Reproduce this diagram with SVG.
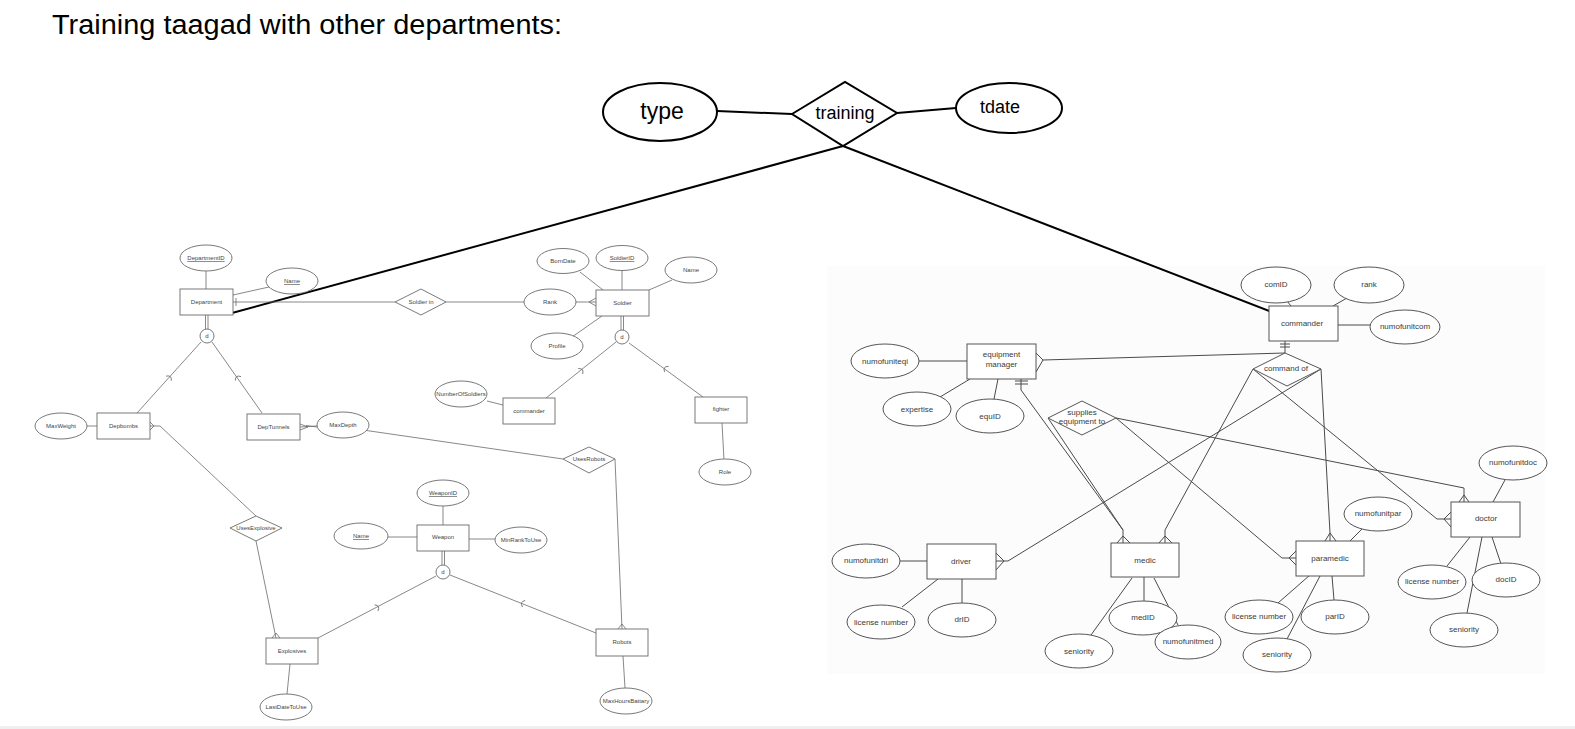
<svg xmlns="http://www.w3.org/2000/svg" width="1575" height="729" viewBox="0 0 1575 729">
<style>
.l1{stroke:#6a6a6a;stroke-width:0.8;fill:none}
.b1{fill:#fff;stroke:#6a6a6a;stroke-width:0.9}
.t1{font-family:"Liberation Sans",Arial,sans-serif;font-size:6px;fill:#444;text-anchor:middle}
.u{text-decoration:underline}
.l2{stroke:#4a4a4a;stroke-width:1;fill:none}
.b2{fill:#fff;stroke:#555;stroke-width:1}
.t2{font-family:"Liberation Sans",Arial,sans-serif;font-size:8px;fill:#3a3a3a;text-anchor:middle}
.l3{stroke:#000;stroke-width:2;fill:none}
.b3{fill:#fff;stroke:#000;stroke-width:2}
.t3{font-family:"Liberation Sans",Arial,sans-serif;fill:#000;text-anchor:middle}
</style>
<defs>
<path id="sub" d="M2,-3.5 Q-3,0 2,3.5" fill="none" stroke="#6a6a6a" stroke-width="0.8"/>
</defs>
<rect width="1575" height="729" fill="#fff"/>
<rect x="827" y="266" width="718" height="408" fill="#fcfcfc"/>
<rect x="0" y="726" width="1575" height="3" fill="#efefef"/>
<text x="52" y="34" font-family="Liberation Sans, Arial, sans-serif" font-size="27" fill="#000" textLength="510" lengthAdjust="spacingAndGlyphs">Training taagad with other departments:</text>

<g id="connectors">
<line class="l3" x1="717" y1="111" x2="792" y2="114"/>
<line class="l3" x1="897" y1="113" x2="956" y2="108"/>
<line class="l3" x1="843" y1="146" x2="232" y2="313"/>
<line class="l3" x1="843" y1="146" x2="1272" y2="312"/>
<line class="l1" x1="206" y1="271" x2="206" y2="289"/>
<line class="l1" x1="233" y1="295" x2="269" y2="287"/>
<line class="l1" x1="233" y1="302" x2="395" y2="302"/>
<line class="l1" x1="236" y1="298" x2="236" y2="306"/>
<line class="l1" x1="205.5" y1="315" x2="205.5" y2="329"/>
<line class="l1" x1="208" y1="315" x2="208" y2="329"/>
<line class="l1" x1="201" y1="342" x2="137" y2="413"/>
<line class="l1" x1="212" y1="342" x2="262" y2="413"/>
<use href="#sub" transform="translate(170,377) rotate(132)"/>
<use href="#sub" transform="translate(237,377) rotate(54.5)"/>
<line class="l1" x1="87" y1="426" x2="97" y2="426"/>
<path class="l1" d="M150,422 L154,426 L150,430 M150,426 L160,426 L256,516"/>
<path class="l1" d="M300,424 L308,427 L300,430 M300,427 L317,426 M306,425.5 L317,427"/>
<line class="l1" x1="363" y1="430" x2="563" y2="459"/>
<line class="l1" x1="446" y1="302" x2="524" y2="302"/>
<path class="l1" d="M576,302 L596,302 M596,298 L589,302 L596,306" stroke-width="1.1"/>
<line class="l1" x1="580" y1="272" x2="603" y2="290"/>
<line class="l1" x1="622" y1="271" x2="622" y2="290"/>
<line class="l1" x1="672" y1="280" x2="649" y2="290"/>
<line class="l1" x1="572" y1="337" x2="602" y2="316"/>
<line class="l1" x1="621" y1="316" x2="621" y2="330"/>
<line class="l1" x1="623.5" y1="316" x2="623.5" y2="330"/>
<line class="l1" x1="616" y1="342" x2="546" y2="398"/>
<line class="l1" x1="629" y1="343" x2="703" y2="397"/>
<use href="#sub" transform="translate(582,370) rotate(141)"/>
<use href="#sub" transform="translate(665,368) rotate(36)"/>
<line class="l1" x1="487" y1="401" x2="503" y2="405"/>
<line class="l1" x1="722" y1="423" x2="724" y2="460"/>
<line class="l1" x1="615" y1="459" x2="622" y2="629"/>
<path class="l1" d="M618,629 L622,624 L626,629"/>
<line class="l1" x1="443" y1="506" x2="443" y2="525"/>
<line class="l1" x1="388" y1="537" x2="417" y2="537"/>
<line class="l1" x1="469" y1="539" x2="495" y2="539"/>
<line class="l1" x1="442" y1="551" x2="442" y2="565"/>
<line class="l1" x1="444.5" y1="551" x2="444.5" y2="565"/>
<line class="l1" x1="436" y1="576" x2="318" y2="638"/>
<line class="l1" x1="450" y1="575" x2="596" y2="633"/>
<use href="#sub" transform="translate(378,607) rotate(152)"/>
<use href="#sub" transform="translate(522,603) rotate(22)"/>
<line class="l1" x1="256" y1="541" x2="276" y2="638"/>
<path class="l1" d="M272,638 L276,633 L280,638"/>
<line class="l1" x1="290" y1="664" x2="287" y2="694"/>
<line class="l1" x1="623" y1="656" x2="625" y2="688"/>
<line class="l2" x1="919" y1="361" x2="967" y2="361"/>
<line class="l2" x1="940" y1="397" x2="970" y2="379"/>
<line class="l2" x1="994" y1="399" x2="998" y2="379"/>
<path class="l2" d="M1036,353 L1043,360 L1036,372 M1043,360 L1285,353"/>
<path class="l2" d="M1285,341 L1285,353 M1280,344 L1290,344 M1280,347 L1290,347"/>
<line class="l2" x1="1287" y1="301" x2="1291" y2="306"/>
<line class="l2" x1="1347" y1="298" x2="1333" y2="306"/>
<line class="l2" x1="1338" y1="325" x2="1370" y2="325"/>
<path class="l2" d="M1021,379 L1021,390 L1123,530 L1123,543 M1015,381 L1028,381 M1015,384 L1028,384"/>
<line class="l2" x1="1048" y1="418" x2="1123" y2="530"/>
<path class="l2" d="M1117,543 L1123,536 L1130,543"/>
<path class="l2" d="M1253,369 L1165,530 L1165,543 M1159,543 L1165,536 L1172,543"/>
<path class="l2" d="M1253,369 L1437,519 L1451,519 M1451,512 L1444,519 L1451,527"/>
<path class="l2" d="M1321,369 L1008,561 L996,561 M996,553 L1004,561 L996,570"/>
<path class="l2" d="M1321,369 L1330,533 L1330,541 M1325,541 L1330,533 L1336,541"/>
<path class="l2" d="M1116,418 L1282,558 L1296,558 M1296,551 L1289,558 L1296,565"/>
<path class="l2" d="M1116,418 L1464,488 L1464,502 M1459,502 L1464,495 L1469,502"/>
<line class="l2" x1="900" y1="561" x2="927" y2="561"/>
<line class="l2" x1="902" y1="607" x2="938" y2="579"/>
<line class="l2" x1="962" y1="579" x2="962" y2="603"/>
<line class="l2" x1="1144" y1="577" x2="1144" y2="601"/>
<line class="l2" x1="1132" y1="578" x2="1091" y2="635"/>
<line class="l2" x1="1154" y1="578" x2="1178" y2="625"/>
<line class="l2" x1="1362" y1="529" x2="1350" y2="541"/>
<line class="l2" x1="1278" y1="603" x2="1310" y2="575"/>
<line class="l2" x1="1332" y1="576" x2="1334" y2="600"/>
<line class="l2" x1="1287" y1="639" x2="1320" y2="576"/>
<line class="l2" x1="1505" y1="480" x2="1493" y2="502"/>
<line class="l2" x1="1447" y1="566" x2="1470" y2="537"/>
<line class="l2" x1="1492" y1="537" x2="1501" y2="564"/>
<line class="l2" x1="1482" y1="537" x2="1467" y2="613"/>
</g>

<g id="n-type"><ellipse class="b3" cx="660" cy="112" rx="57" ry="29"/><text class="t3" x="662" y="119" font-size="23">type</text></g>
<g id="n-training"><polygon class="b3" points="792,114 845,82 897,113 843,146"/><text class="t3" x="845" y="119" font-size="18">training</text></g>
<g id="n-tdate"><ellipse class="b3" cx="1009" cy="108" rx="53" ry="25"/><text class="t3" x="1000" y="113" font-size="18">tdate</text></g>

<g id="n-department"><rect class="b1" x="180" y="289" width="53" height="26"/><text class="t1" x="206.5" y="304">Department</text></g>
<g id="n-departmentid"><ellipse class="b1" cx="206" cy="258" rx="26" ry="13"/><text class="t1 u" x="206" y="260">DepartmentID</text></g>
<g id="n-dept-name"><ellipse class="b1" cx="292" cy="281" rx="26" ry="13"/><text class="t1 u" x="292" y="283">Name</text></g>
<g id="n-dept-d"><circle class="b1" cx="207" cy="336" r="7"/><text class="t1" x="207" y="338">d</text></g>
<g id="n-soldierin"><polygon class="b1" points="395,302 421,289 446,302 421,315"/><text class="t1" x="421" y="304">Soldier in</text></g>
<g id="n-depbombs"><rect class="b1" x="97" y="413" width="53" height="26"/><text class="t1" x="123.5" y="428">Depbombs</text></g>
<g id="n-maxweight"><ellipse class="b1" cx="61" cy="426" rx="26" ry="13"/><text class="t1" x="61" y="428">MaxWeight</text></g>
<g id="n-deptunnels"><rect class="b1" x="247" y="414" width="53" height="26"/><text class="t1" x="273.5" y="429">DepTunnels</text></g>
<g id="n-maxdepth"><ellipse class="b1" cx="343" cy="425" rx="26" ry="13"/><text class="t1" x="343" y="427">MaxDepth</text></g>
<g id="n-rank"><ellipse class="b1" cx="550" cy="302" rx="26" ry="13"/><text class="t1" x="550" y="304">Rank</text></g>
<g id="n-soldier"><rect class="b1" x="596" y="290" width="53" height="26"/><text class="t1" x="622.5" y="305">Soldier</text></g>
<g id="n-borndate"><ellipse class="b1" cx="563" cy="261" rx="26" ry="12.5"/><text class="t1" x="563" y="263">BornDate</text></g>
<g id="n-soldierid"><ellipse class="b1" cx="622" cy="258" rx="26" ry="12.5"/><text class="t1 u" x="622" y="260">SoldierID</text></g>
<g id="n-soldier-name"><ellipse class="b1" cx="691" cy="270" rx="26" ry="13"/><text class="t1" x="691" y="272">Name</text></g>
<g id="n-profile"><ellipse class="b1" cx="557" cy="346" rx="26" ry="13"/><text class="t1" x="557" y="348">Profile</text></g>
<g id="n-soldier-d"><circle class="b1" cx="622" cy="337" r="7"/><text class="t1" x="622" y="339">d</text></g>
<g id="n-commander-l"><rect class="b1" x="503" y="398" width="52" height="26"/><text class="t1" x="529" y="413">commander</text></g>
<g id="n-numberofsoldiers"><ellipse class="b1" cx="461" cy="394" rx="26" ry="13"/><text class="t1" x="461" y="396">NumberOfSoldiers</text></g>
<g id="n-fighter"><rect class="b1" x="695" y="397" width="52" height="26"/><text class="t1" x="721" y="411">fighter</text></g>
<g id="n-role"><ellipse class="b1" cx="725" cy="472" rx="26" ry="13"/><text class="t1" x="725" y="474">Role</text></g>
<g id="n-usesrobots"><polygon class="b1" points="563,459 589,447 615,459 589,473"/><text class="t1" x="589" y="461">UsesRobots</text></g>
<g id="n-usesexplosive"><polygon class="b1" points="230,528 256,516 282,528 256,541"/><text class="t1" x="256" y="530">UsesExplosive</text></g>
<g id="n-weapon"><rect class="b1" x="417" y="525" width="52" height="26"/><text class="t1" x="443" y="539">Weapon</text></g>
<g id="n-weaponid"><ellipse class="b1" cx="443" cy="493" rx="26" ry="13"/><text class="t1 u" x="443" y="495">WeaponID</text></g>
<g id="n-weapon-name"><ellipse class="b1" cx="361" cy="536" rx="27" ry="13"/><text class="t1 u" x="361" y="538">Name</text></g>
<g id="n-minranktouse"><ellipse class="b1" cx="521" cy="540" rx="26" ry="13"/><text class="t1" x="521" y="542">MinRankToUse</text></g>
<g id="n-weapon-d"><circle class="b1" cx="443" cy="572" r="7"/><text class="t1" x="443" y="574">d</text></g>
<g id="n-explosives"><rect class="b1" x="266" y="638" width="52" height="26"/><text class="t1" x="292" y="653">Explosives</text></g>
<g id="n-lastdatetouse"><ellipse class="b1" cx="286" cy="707" rx="26" ry="13"/><text class="t1" x="286" y="709">LastDateToUse</text></g>
<g id="n-robots"><rect class="b1" x="596" y="629" width="52" height="27"/><text class="t1" x="622" y="644">Robots</text></g>
<g id="n-maxhoursbattary"><ellipse class="b1" cx="626" cy="701" rx="26" ry="13"/><text class="t1" x="626" y="703">MaxHoursBattary</text></g>

<g id="n-equipmentmanager"><rect class="b2" x="967" y="344" width="69" height="35"/><text class="t2" x="1001.5" y="357">equipment</text><text class="t2" x="1001.5" y="367">manager</text></g>
<g id="n-numofuniteqi"><ellipse class="b2" cx="885" cy="361" rx="34" ry="17"/><text class="t2" x="885" y="364">numofuniteqi</text></g>
<g id="n-expertise"><ellipse class="b2" cx="917" cy="409" rx="34" ry="17"/><text class="t2" x="917" y="412">expertise</text></g>
<g id="n-equid"><ellipse class="b2" cx="990" cy="416" rx="34" ry="17"/><text class="t2" x="990" y="419">equID</text></g>
<g id="n-commander"><rect class="b2" x="1269" y="306" width="69" height="35"/><text class="t2" x="1302" y="326">commander</text></g>
<g id="n-comid"><ellipse class="b2" cx="1276" cy="285" rx="35" ry="18"/><text class="t2" x="1276" y="287">comID</text></g>
<g id="n-rank-r"><ellipse class="b2" cx="1369" cy="285" rx="35" ry="18"/><text class="t2" x="1369" y="287">rank</text></g>
<g id="n-numofunitcom"><ellipse class="b2" cx="1405" cy="327" rx="35" ry="17"/><text class="t2" x="1405" y="329">numofunitcom</text></g>
<g id="n-commandof"><polygon class="b2" points="1253,369 1285,353 1321,369 1287,386"/><text class="t2" x="1286" y="371">command of</text></g>
<g id="n-supplies"><polygon class="b2" points="1048,418 1082,401 1116,418 1082,435"/><text class="t2" x="1082" y="415">supplies</text><text class="t2" x="1082" y="424">equipment to</text></g>
<g id="n-driver"><rect class="b2" x="927" y="544" width="69" height="35"/><text class="t2" x="961" y="564">driver</text></g>
<g id="n-numofunitdri"><ellipse class="b2" cx="866" cy="561" rx="34" ry="17"/><text class="t2" x="866" y="563">numofunitdri</text></g>
<g id="n-license-dri"><ellipse class="b2" cx="881" cy="622" rx="34" ry="17"/><text class="t2" x="881" y="625">license number</text></g>
<g id="n-drid"><ellipse class="b2" cx="962" cy="620" rx="34" ry="17"/><text class="t2" x="962" y="622">drID</text></g>
<g id="n-medic"><rect class="b2" x="1111" y="543" width="68" height="34"/><text class="t2" x="1145" y="563">medic</text></g>
<g id="n-medid"><ellipse class="b2" cx="1143" cy="618" rx="34" ry="17"/><text class="t2" x="1143" y="620">medID</text></g>
<g id="n-seniority-med"><ellipse class="b2" cx="1079" cy="651" rx="34" ry="17"/><text class="t2" x="1079" y="654">seniority</text></g>
<g id="n-numofunitmed"><ellipse class="b2" cx="1188" cy="642" rx="33" ry="17"/><text class="t2" x="1188" y="644">numofunitmed</text></g>
<g id="n-paramedic"><rect class="b2" x="1296" y="541" width="68" height="35"/><text class="t2" x="1330" y="561">paramedic</text></g>
<g id="n-numofunitpar"><ellipse class="b2" cx="1378" cy="514" rx="34" ry="17"/><text class="t2" x="1378" y="516">numofunitpar</text></g>
<g id="n-license-par"><ellipse class="b2" cx="1259" cy="617" rx="34" ry="17"/><text class="t2" x="1259" y="619">license number</text></g>
<g id="n-parid"><ellipse class="b2" cx="1335" cy="617" rx="34" ry="17"/><text class="t2" x="1335" y="619">parID</text></g>
<g id="n-seniority-par"><ellipse class="b2" cx="1277" cy="655" rx="34" ry="17"/><text class="t2" x="1277" y="657">seniority</text></g>
<g id="n-doctor"><rect class="b2" x="1451" y="502" width="69" height="35"/><text class="t2" x="1486" y="521">doctor</text></g>
<g id="n-numofunitdoc"><ellipse class="b2" cx="1513" cy="463" rx="34" ry="17"/><text class="t2" x="1513" y="465">numofunitdoc</text></g>
<g id="n-license-doc"><ellipse class="b2" cx="1432" cy="582" rx="34" ry="17"/><text class="t2" x="1432" y="584">license number</text></g>
<g id="n-docid"><ellipse class="b2" cx="1506" cy="580" rx="34" ry="17"/><text class="t2" x="1506" y="582">docID</text></g>
<g id="n-seniority-doc"><ellipse class="b2" cx="1464" cy="630" rx="34" ry="17"/><text class="t2" x="1464" y="632">seniority</text></g>
</svg>
